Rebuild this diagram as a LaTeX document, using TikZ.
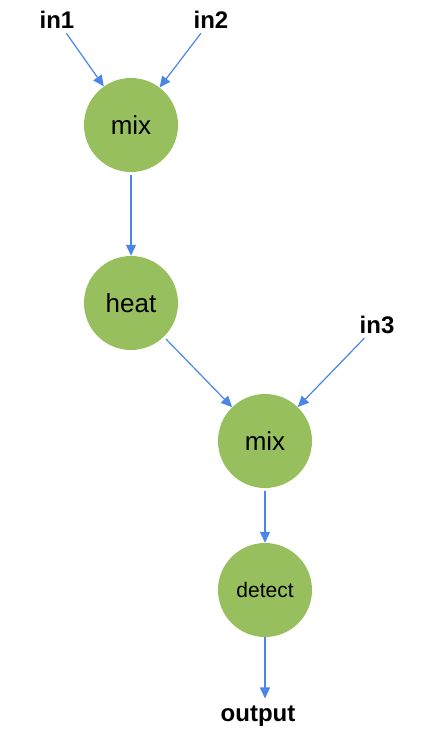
\documentclass[tikz,border=0pt]{standalone}
\usepackage{fontspec}
\setmainfont{Liberation Sans}
\usetikzlibrary{arrows.meta}
\definecolor{stepgreen}{RGB}{151,191,94}
\definecolor{flowblue}{RGB}{74,134,232}

\begin{document}
\begin{tikzpicture}[x=1pt,y=-1pt,
    op/.style={circle,fill=stepgreen,minimum size=94pt,inner sep=0pt,
      font=\fontsize{26}{30}\selectfont},
    port/.style={inner sep=2pt,font=\bfseries\fontsize{24}{28}\selectfont},
    flow/.style={draw=flowblue,line width=1.2pt,
      -{Triangle[length=11pt,width=10pt]},shorten <=3pt}]
  \useasboundingbox (0,0) rectangle (432,734);

  % inputs and output
  \node[port] (in1) at (57,20) {in1};
  \node[port] (in2) at (211,20) {in2};
  \node[port] (in3) at (377,325) {in3};
  \node[port] (out) at (258,716) {output};

  % steps
  \node[op] (mix1) at (131,125) {mix};
  \node[op] (heat) at (131,303) {heat};
  \node[op] (mix2) at (265,441) {mix};
  \node[op,font=\fontsize{21}{25}\selectfont] (det) at (265,590) {detect};

  \draw[flow] (in1) -- (mix1);
  \draw[flow] (in2) -- (mix1);
  \draw[flow] (mix1) -- (heat);
  \draw[flow] (heat) -- (mix2);
  \draw[flow] (in3) -- (mix2);
  \draw[flow] (mix2) -- (det);
  \draw[flow,shorten <=0pt,shorten >=5pt] (det) -- (det |- out.north);
\end{tikzpicture}
\end{document}
